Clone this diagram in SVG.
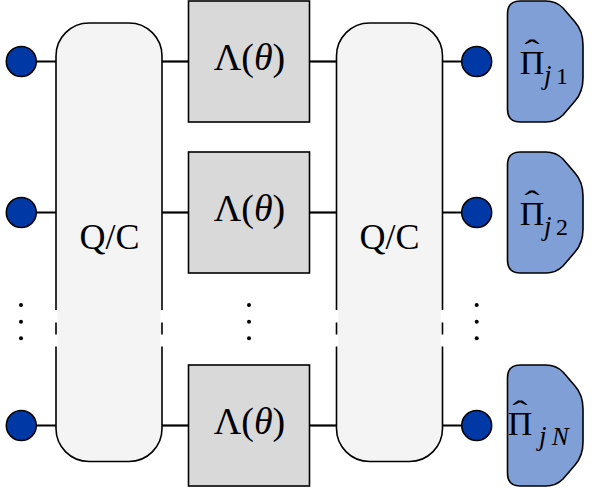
<svg xmlns="http://www.w3.org/2000/svg" width="597" height="488" viewBox="0 0 597 488">
<defs>
<path id="detshape" d="M520,0 L546,0 Q556,0 563,7 L575,21 Q583,30 583,44 L583,77 Q583,91 575,100 L563,114 Q556,121 546,121 L520,121 Q507.5,121 507.5,108 L507.5,13 Q507.5,0 520,0 Z"/>
</defs>
<style>
.wire{stroke:#000;stroke-width:2.2;fill:none}
.qc{fill:#f4f4f4;stroke:#000;stroke-width:1.6}
.lam{fill:#d9d9d9;stroke:#000;stroke-width:1.6}
.det{fill:#7f9fd6;stroke:#000;stroke-width:1.6}
.src{fill:#0038a6;stroke:#000;stroke-width:1.5}
.gap{stroke:#fff;stroke-width:3.5}
.t{font-family:"Liberation Serif","Times New Roman",serif;fill:#000}
.dot{fill:#000}
</style>
<g id="connectors">
<line class="wire" x1="21" y1="61.5" x2="56" y2="61.5"/>
<line class="wire" x1="162" y1="61.5" x2="188" y2="61.5"/>
<line class="wire" x1="309" y1="61.5" x2="336" y2="61.5"/>
<line class="wire" x1="443" y1="61.5" x2="477" y2="61.5"/>
<line class="wire" x1="21" y1="212.5" x2="56" y2="212.5"/>
<line class="wire" x1="162" y1="212.5" x2="188" y2="212.5"/>
<line class="wire" x1="309" y1="212.5" x2="336" y2="212.5"/>
<line class="wire" x1="443" y1="212.5" x2="477" y2="212.5"/>
<line class="wire" x1="21" y1="425.5" x2="56" y2="425.5"/>
<line class="wire" x1="162" y1="425.5" x2="188" y2="425.5"/>
<line class="wire" x1="309" y1="425.5" x2="336" y2="425.5"/>
<line class="wire" x1="443" y1="425.5" x2="477" y2="425.5"/>
</g>
<g id="qc1">
<rect class="qc" x="56" y="23" width="106" height="438.5" rx="33" ry="33"/>
<line class="gap" x1="56" y1="310" x2="56" y2="322.5"/>
<line class="gap" x1="56" y1="334.5" x2="56" y2="346.5"/>
<line class="gap" x1="162" y1="310" x2="162" y2="322.5"/>
<line class="gap" x1="162" y1="334.5" x2="162" y2="346.5"/>
<text class="t" x="109.5" y="249" font-size="36" text-anchor="middle">Q/C</text>
</g>
<g id="qc2">
<rect class="qc" x="336.5" y="23" width="106" height="438.5" rx="33" ry="33"/>
<line class="gap" x1="336.5" y1="310" x2="336.5" y2="322.5"/>
<line class="gap" x1="336.5" y1="334.5" x2="336.5" y2="346.5"/>
<line class="gap" x1="442.5" y1="310" x2="442.5" y2="322.5"/>
<line class="gap" x1="442.5" y1="334.5" x2="442.5" y2="346.5"/>
<text class="t" x="389.5" y="249" font-size="36" text-anchor="middle">Q/C</text>
</g>
<g id="lambda1">
<rect class="lam" x="188.5" y="1" width="121" height="121"/>
<text class="t" x="249.5" y="70" font-size="38" text-anchor="middle">Λ(<tspan font-style="italic">θ</tspan>)</text>
</g>
<g id="lambda2">
<rect class="lam" x="188.5" y="152" width="121" height="121"/>
<text class="t" x="249.5" y="221" font-size="38" text-anchor="middle">Λ(<tspan font-style="italic">θ</tspan>)</text>
</g>
<g id="lambdaN">
<rect class="lam" x="188.5" y="365" width="121" height="121"/>
<text class="t" x="249.5" y="434" font-size="38" text-anchor="middle">Λ(<tspan font-style="italic">θ</tspan>)</text>
</g>
<g id="in1"><circle class="src" cx="21.3" cy="61.5" r="15"/></g>
<g id="in2"><circle class="src" cx="21.3" cy="212.5" r="15"/></g>
<g id="inN"><circle class="src" cx="21.3" cy="425.5" r="15"/></g>
<g id="out1"><circle class="src" cx="476.7" cy="61.5" r="15"/></g>
<g id="out2"><circle class="src" cx="476.7" cy="212.5" r="15"/></g>
<g id="outN"><circle class="src" cx="476.7" cy="425.5" r="15"/></g>
<g id="dots">
<circle class="dot" cx="21" cy="305" r="2"/><circle class="dot" cx="21" cy="321.7" r="2"/><circle class="dot" cx="21" cy="338.3" r="2"/>
<circle class="dot" cx="249" cy="305" r="2"/><circle class="dot" cx="249" cy="321.7" r="2"/><circle class="dot" cx="249" cy="338.3" r="2"/>
<circle class="dot" cx="476.7" cy="305" r="2"/><circle class="dot" cx="476.7" cy="321.7" r="2"/><circle class="dot" cx="476.7" cy="338.3" r="2"/>
</g>
<g id="det1">
<use href="#detshape" class="det" y="1"/>
<text class="t" x="532" y="74" font-size="34" text-anchor="middle">Π</text>
<text class="t" x="532" y="60" font-size="30" text-anchor="middle" transform="translate(532 0) scale(1.5 1) translate(-532 0)">ˆ</text>
<text class="t" y="84" font-size="27"><tspan x="544" font-style="italic">j</tspan><tspan x="556" font-size="24">1</tspan></text>
</g>
<g id="det2">
<use href="#detshape" class="det" y="152"/>
<text class="t" x="532" y="225" font-size="34" text-anchor="middle">Π</text>
<text class="t" x="532" y="211" font-size="30" text-anchor="middle" transform="translate(532 0) scale(1.5 1) translate(-532 0)">ˆ</text>
<text class="t" y="235" font-size="27"><tspan x="544" font-style="italic">j</tspan><tspan x="556" font-size="24">2</tspan></text>
</g>
<g id="detN">
<use href="#detshape" class="det" y="365"/>
<text class="t" x="520" y="435" font-size="34" text-anchor="middle">Π</text>
<text class="t" x="520" y="421" font-size="30" text-anchor="middle" transform="translate(520 0) scale(1.5 1) translate(-520 0)">ˆ</text>
<text class="t" y="445" font-size="27" font-style="italic"><tspan x="539">j</tspan><tspan x="552" font-size="25">N</tspan></text>
</g>
</svg>
